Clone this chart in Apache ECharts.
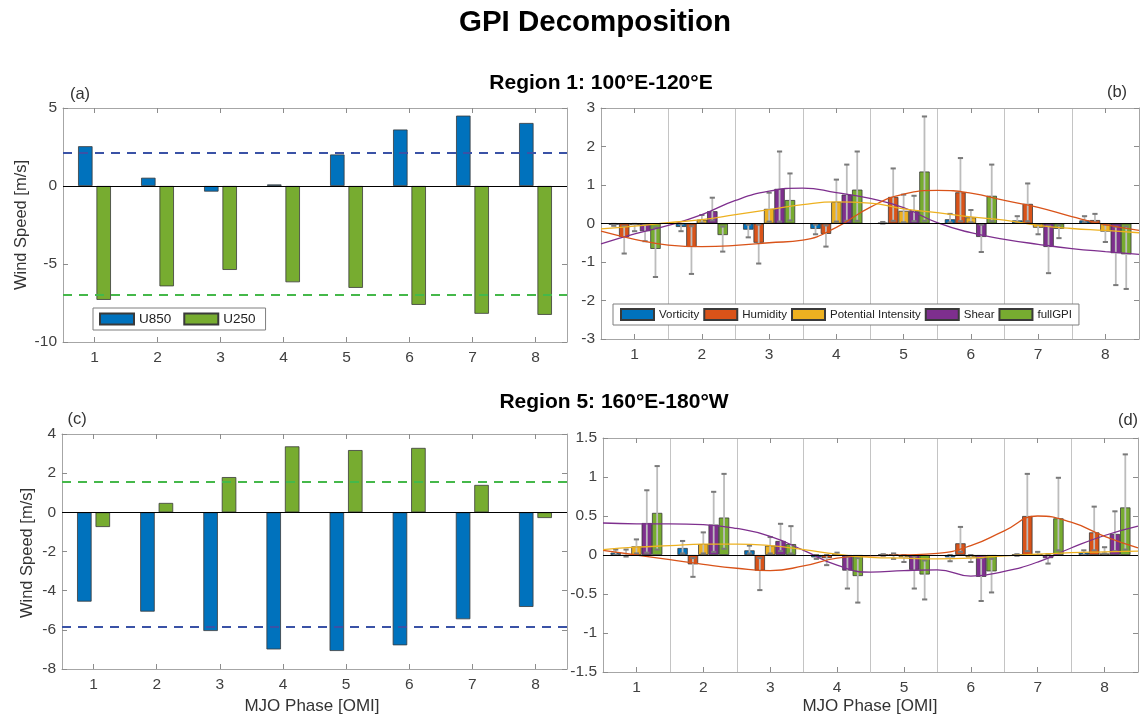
<!DOCTYPE html>
<html>
<head>
<meta charset="utf-8">
<script src="https://cdn.jsdelivr.net/npm/echarts@6/dist/echarts.min.js"></script>
<style>html,body{margin:0;padding:0;background:#fff;}#chart{width:1141px;height:719px;}</style>
</head>
<body>
<div id="chart"></div>
<script>
// ---------------- DATA ----------------
const phases = ['1', '2', '3', '4', '5', '6', '7', '8'];

// Panel (a) Region 1 winds
const u850_a = [2.55, 0.53, -0.36, 0.10, 2.02, 3.62, 4.51, 4.04];
const u250_a = [-7.30, -6.43, -5.38, -6.17, -6.53, -7.62, -8.19, -8.26];
const refLines_a = [2.13, -6.98];      // U850 mean, U250 mean

// Panel (c) Region 5 winds
const u850_c = [-4.56, -5.07, -6.06, -7.00, -7.08, -6.79, -5.46, -4.83];
const u250_c = [-0.75, 0.48, 1.80, 3.37, 3.18, 3.29, 1.40, -0.29];
const refLines_c = [-5.86, 1.58];      // U850 mean, U250 mean

// Panel (b) Region 1 GPI decomposition
const vort_b  = [-0.03, -0.09, -0.16, -0.14, 0.02, 0.11, 0.08, 0.08];
const hum_b   = [-0.35, -0.61, -0.50, -0.27, 0.69, 0.81, 0.51, 0.09];
const pi_b    = [-0.04, 0.10, 0.38, 0.56, 0.33, 0.16, -0.11, -0.21];
const shear_b = [-0.20, 0.32, 0.90, 0.75, 0.32, -0.35, -0.61, -0.77];
const full_b  = [-0.66, -0.30, 0.61, 0.88, 1.35, 0.72, -0.14, -0.80];

const vort_b_lo  = [-0.06, -0.20, -0.36, -0.28, 0.00, 0.03, 0.03, 0.03];
const vort_b_hi  = [-0.01, -0.02, -0.03, -0.03, 0.04, 0.25, 0.19, 0.19];
const hum_b_lo   = [-0.78, -1.31, -1.04, -0.60, 0.07, 0.06, 0.06, 0.03];
const hum_b_hi   = [-0.07, -0.07, -0.03, -0.05, 1.43, 1.70, 1.04, 0.25];
const pi_b_lo    = [-0.20, 0.02, 0.05, 0.05, 0.03, 0.03, -0.28, -0.48];
const pi_b_hi    = [-0.01, 0.22, 0.80, 1.14, 0.75, 0.35, -0.02, -0.03];
const shear_b_lo = [-0.46, 0.08, 0.05, 0.07, 0.06, -0.74, -1.29, -1.60];
const shear_b_hi = [-0.02, 0.67, 1.87, 1.53, 0.72, -0.03, -0.06, -0.08];
const full_b_lo  = [-1.39, -0.73, 0.08, 0.07, 0.07, 0.06, -0.38, -1.70];
const full_b_hi  = [-0.10, -0.08, 1.30, 1.87, 2.78, 1.53, -0.05, -0.08];

// Panel (d) Region 5 GPI decomposition
const vort_d  = [0.03, 0.09, 0.06, -0.03, 0.005, -0.03, 0.005, 0.03];
const hum_d   = [-0.01, -0.12, -0.20, -0.04, 0.01, 0.15, 0.50, 0.29];
const pi_d    = [0.11, 0.14, 0.12, 0.005, -0.03, -0.03, 0.01, 0.02];
const shear_d = [0.41, 0.39, 0.18, -0.20, -0.19, -0.28, -0.04, 0.27];
const full_d  = [0.54, 0.48, 0.14, -0.27, -0.25, -0.21, 0.47, 0.61];

const vort_d_lo  = [0.00, 0.02, 0.02, -0.05, -0.01, -0.08, -0.01, 0.00];
const vort_d_hi  = [0.07, 0.18, 0.12, 0.00, 0.01, 0.00, 0.01, 0.06];
const hum_d_lo   = [-0.02, -0.28, -0.45, -0.13, -0.05, 0.04, 0.05, 0.06];
const hum_d_hi   = [0.07, -0.04, -0.04, 0.00, 0.02, 0.36, 1.04, 0.62];
const pi_d_lo    = [0.02, 0.02, 0.02, 0.00, -0.09, -0.09, 0.00, 0.02];
const pi_d_hi    = [0.20, 0.29, 0.23, 0.03, 0.00, 0.00, 0.04, 0.10];
const shear_d_lo = [0.03, 0.04, 0.05, -0.43, -0.43, -0.59, -0.11, 0.05];
const shear_d_hi = [0.83, 0.81, 0.40, -0.02, -0.02, -0.04, 0.01, 0.56];
const full_d_lo  = [0.07, 0.08, 0.02, -0.61, -0.57, -0.48, 0.06, 0.07];
const full_d_hi  = [1.14, 1.04, 0.37, -0.04, -0.07, -0.05, 0.99, 1.29];

// Fitted curves at phase positions
const curveX = [0.5, 1, 1.5, 2, 2.5, 3, 3.5, 4, 4.5, 5, 5.5, 6, 6.5, 7, 7.5, 8, 8.5];
const humCurve_b   = [-0.20, -0.41, -0.56, -0.60, -0.57, -0.50, -0.43, -0.10, 0.42, 0.76, 0.86, 0.79, 0.60, 0.42, 0.18, -0.03, -0.18];
const piCurve_b    = [-0.14, -0.07, 0.02, 0.10, 0.23, 0.36, 0.49, 0.56, 0.53, 0.38, 0.28, 0.17, 0.09, -0.05, -0.13, -0.18, -0.24];
const shearCurve_b = [-0.53, -0.27, -0.05, 0.23, 0.60, 0.84, 0.92, 0.80, 0.65, 0.41, 0.02, -0.24, -0.41, -0.54, -0.65, -0.73, -0.80];
const humCurve_d   = [0.06, 0.00, -0.06, -0.12, -0.17, -0.20, -0.14, -0.04, -0.01, 0.00, 0.02, 0.12, 0.31, 0.50, 0.42, 0.24, 0.09];
const piCurve_d    = [0.07, 0.10, 0.12, 0.14, 0.14, 0.12, 0.07, 0.01, -0.03, -0.04, -0.05, -0.04, -0.01, 0.01, 0.03, 0.04, 0.05];
const shearCurve_d = [0.41, 0.40, 0.40, 0.39, 0.34, 0.24, 0.06, -0.13, -0.22, -0.20, -0.19, -0.27, -0.21, -0.09, 0.09, 0.25, 0.37];

const gpiNames = ['Vorticity', 'Humidity', 'Potential Intensity', 'Shear', 'fullGPI'];

// ---------------- STYLE ----------------
const FONT = "'Liberation Sans', Arial, Helvetica, sans-serif";
const C_BLUE = '#0072BD', C_ORANGE = '#D95319', C_YELLOW = '#EDB120', C_PURPLE = '#7E2F8E', C_GREEN = '#77AC30';
const gpiColors = [C_BLUE, C_ORANGE, C_YELLOW, C_PURPLE, C_GREEN];
const AXIS_C = '#a6a6a6', LABEL_C = '#404040';

const grids = [
  { left: 63,  top: 108, width: 504, height: 234 },   // a
  { left: 601, top: 108, width: 538, height: 231 },   // b
  { left: 62,  top: 434, width: 505, height: 235 },   // c
  { left: 603, top: 438, width: 535, height: 234 }    // d
];

const xAxes = [], yAxes = [];
function addCatX(g, pos, labels, split) {
  xAxes.push({
    type: 'category', gridIndex: g, position: pos, data: phases, boundaryGap: true,
    axisLine: { show: true, onZero: false, lineStyle: { color: AXIS_C, width: 1 } },
    axisTick: { show: true, inside: true, alignWithLabel: true, length: 5, lineStyle: { color: '#8c8c8c' } },
    axisLabel: { show: labels, color: LABEL_C, fontSize: 15.5, fontFamily: FONT, margin: 8 },
    splitLine: { show: split, lineStyle: { color: '#c4c4c4', width: 1 } }
  });
  return xAxes.length - 1;
}
function addValX(g) {
  xAxes.push({ type: 'value', gridIndex: g, min: 0.5, max: 8.5, show: false });
  return xAxes.length - 1;
}
function addValY(g, pos, min, max, interval, labels) {
  yAxes.push({
    type: 'value', gridIndex: g, position: pos, min: min, max: max, interval: interval,
    axisLine: { show: true, onZero: false, lineStyle: { color: AXIS_C, width: 1 } },
    axisTick: { show: true, inside: true, length: 5, lineStyle: { color: '#8c8c8c' } },
    axisLabel: { show: labels, color: LABEL_C, fontSize: 15.5, fontFamily: FONT, margin: 6 },
    splitLine: { show: false }
  });
  return yAxes.length - 1;
}

// axes
const ax = {};
ax.aX = addCatX(0, 'bottom', true, false); addCatX(0, 'top', false, false);
ax.aY = addValY(0, 'left', -10, 5, 5, true); addValY(0, 'right', -10, 5, 5, false);
ax.bX = addCatX(1, 'bottom', true, true); addCatX(1, 'top', false, false); ax.bV = addValX(1);
ax.bY = addValY(1, 'left', -3, 3, 1, true); addValY(1, 'right', -3, 3, 1, false);
ax.cX = addCatX(2, 'bottom', true, false); addCatX(2, 'top', false, false);
ax.cY = addValY(2, 'left', -8, 4, 2, true); addValY(2, 'right', -8, 4, 2, false);
ax.dX = addCatX(3, 'bottom', true, true); addCatX(3, 'top', false, false); ax.dV = addValX(3);
ax.dY = addValY(3, 'left', -1.5, 1.5, 0.5, true); addValY(3, 'right', -1.5, 1.5, 0.5, false);

const series = [];
const zeroLine = { yAxis: 0, lineStyle: { color: '#000', width: 1, type: 'solid' } };
function dashLine(v, color) { return { yAxis: v, lineStyle: { color: color, width: 2, type: [9, 7] } }; }
function markLines(items) {
  return { silent: true, symbol: 'none', label: { show: false }, animation: false, data: items };
}

// Wind panels
function windPanel(xi, yi, u850, u250, refs) {
  series.push({
    type: 'bar', name: 'U850', xAxisIndex: xi, yAxisIndex: yi, data: u850,
    barWidth: '23%', barGap: '27%', z: 2,
    itemStyle: { color: C_BLUE, borderColor: '#3a3a3a', borderWidth: 0.8 },
    markLine: markLines([zeroLine, dashLine(refs[0], '#3a52a6')])
  });
  series.push({
    type: 'bar', name: 'U250', xAxisIndex: xi, yAxisIndex: yi, data: u250,
    barWidth: '23%', barGap: '27%', z: 2,
    itemStyle: { color: C_GREEN, borderColor: '#3a3a3a', borderWidth: 0.8 },
    markLine: markLines([dashLine(refs[1], '#45b84a')])
  });
}
windPanel(ax.aX, ax.aY, u850_a, u250_a, refLines_a);
windPanel(ax.cX, ax.cY, u850_c, u250_c, refLines_c);

// GPI panels
function errRender(offset) {
  return function (params, api) {
    const i = api.value(0);
    const base = api.coord([i, 0]);
    const band = api.size([1, 0])[0];
    const x = base[0] + offset * band;
    const yLo = api.coord([i, api.value(1)])[1];
    const yHi = api.coord([i, api.value(2)])[1];
    const cap = 2.6;
    return {
      type: 'group', children: [
        { type: 'line', shape: { x1: x, y1: yLo, x2: x, y2: yHi }, style: { stroke: '#bcbcbc', lineWidth: 1.8 } },
        { type: 'line', shape: { x1: x - cap, y1: yLo, x2: x + cap, y2: yLo }, style: { stroke: '#7a7a7a', lineWidth: 2 } },
        { type: 'line', shape: { x1: x - cap, y1: yHi, x2: x + cap, y2: yHi }, style: { stroke: '#7a7a7a', lineWidth: 2 } }
      ]
    };
  };
}
function gpiPanel(xi, vi, yi, vals, los, his, curves, tag) {
  const BW = 0.155;
  vals.forEach(function (v, k) {
    const s = {
      type: 'bar', name: gpiNames[k], xAxisIndex: xi, yAxisIndex: yi, data: v,
      barWidth: (BW * 100) + '%', barGap: '0%', z: 2,
      itemStyle: { color: gpiColors[k], borderColor: '#3a3a3a', borderWidth: 0.8 }
    };
    if (k === 0) s.markLine = markLines([zeroLine]);
    series.push(s);
  });
  vals.forEach(function (v, k) {
    series.push({
      type: 'custom', name: 'err' + tag + k, xAxisIndex: xi, yAxisIndex: yi, z: 3,
      renderItem: errRender((k - 2) * BW),
      encode: { x: 0, y: [1, 2] },
      data: phases.map(function (p, i) { return [i, los[k][i], his[k][i]]; })
    });
  });
  curves.forEach(function (c) {
    series.push({
      type: 'line', name: c.name + ' fit ' + tag, xAxisIndex: vi, yAxisIndex: yi, z: 4,
      smooth: true, showSymbol: false, symbol: 'none',
      lineStyle: { color: c.color, width: 1.3 },
      data: curveX.map(function (x, i) { return [x, c.data[i]]; })
    });
  });
}
gpiPanel(ax.bX, ax.bV, ax.bY,
  [vort_b, hum_b, pi_b, shear_b, full_b],
  [vort_b_lo, hum_b_lo, pi_b_lo, shear_b_lo, full_b_lo],
  [vort_b_hi, hum_b_hi, pi_b_hi, shear_b_hi, full_b_hi],
  [{ name: 'Shear', color: C_PURPLE, data: shearCurve_b },
   { name: 'Humidity', color: C_ORANGE, data: humCurve_b },
   { name: 'PI', color: C_YELLOW, data: piCurve_b }], 'b');
gpiPanel(ax.dX, ax.dV, ax.dY,
  [vort_d, hum_d, pi_d, shear_d, full_d],
  [vort_d_lo, hum_d_lo, pi_d_lo, shear_d_lo, full_d_lo],
  [vort_d_hi, hum_d_hi, pi_d_hi, shear_d_hi, full_d_hi],
  [{ name: 'Shear', color: C_PURPLE, data: shearCurve_d },
   { name: 'Humidity', color: C_ORANGE, data: humCurve_d },
   { name: 'PI', color: C_YELLOW, data: piCurve_d }], 'd');

// texts
function txt(text, x, y, size, weight, rot) {
  return {
    type: 'text', x: x, y: y, rotation: rot || 0, z: 10,
    style: {
      text: text, fill: weight === 'bold' ? '#000' : '#333',
      font: (weight || 'normal') + ' ' + size + 'px ' + FONT,
      textAlign: 'center', textVerticalAlign: 'middle'
    }
  };
}

const option = {
  animation: false,
  backgroundColor: '#fff',
  textStyle: { fontFamily: FONT },
  grid: grids.map(function (g) { return Object.assign({ containLabel: false }, g); }),
  xAxis: xAxes,
  yAxis: yAxes,
  legend: [
    {
      data: ['U850', 'U250'], left: 93, top: 308, orient: 'horizontal', selectedMode: false,
      icon: 'rect', itemWidth: 34, itemHeight: 11, itemGap: 12, padding: [4, 10, 4, 6],
      borderColor: '#7f7f7f', borderWidth: 1, backgroundColor: '#fff', borderRadius: 0,
      textStyle: { fontSize: 13.5, color: '#222', fontFamily: FONT }
    },
    {
      data: gpiNames, left: 613, top: 304, orient: 'horizontal', selectedMode: false,
      icon: 'rect', itemWidth: 33, itemHeight: 11, itemGap: 4, padding: [4, 7, 4, 7],
      borderColor: '#7f7f7f', borderWidth: 1, backgroundColor: '#fff', borderRadius: 0,
      textStyle: { fontSize: 11.5, color: '#222', fontFamily: FONT }
    }
  ],
  graphic: [
    txt('GPI Decomposition', 595, 23, 29.5, 'bold'),
    txt('Region 1: 100°E-120°E', 601, 83, 21, 'bold'),
    txt('Region 5: 160°E-180°W', 614, 402, 21, 'bold'),
    txt('(a)', 80, 94, 16.5),
    txt('(b)', 1117, 92, 16.5),
    txt('(c)', 77, 419, 16.5),
    txt('(d)', 1128, 420, 16.5),
    txt('Wind Speed [m/s]', 21, 225, 16.5, 'normal', Math.PI / 2),
    txt('Wind Speed [m/s]', 27, 553, 16.5, 'normal', Math.PI / 2),
    txt('MJO Phase [OMI]', 312, 706, 17),
    txt('MJO Phase [OMI]', 870, 706, 17)
  ],
  series: series
};

const chart = echarts.init(document.getElementById('chart'), null, { renderer: 'canvas' });
chart.setOption(option);
</script>
</body>
</html>
